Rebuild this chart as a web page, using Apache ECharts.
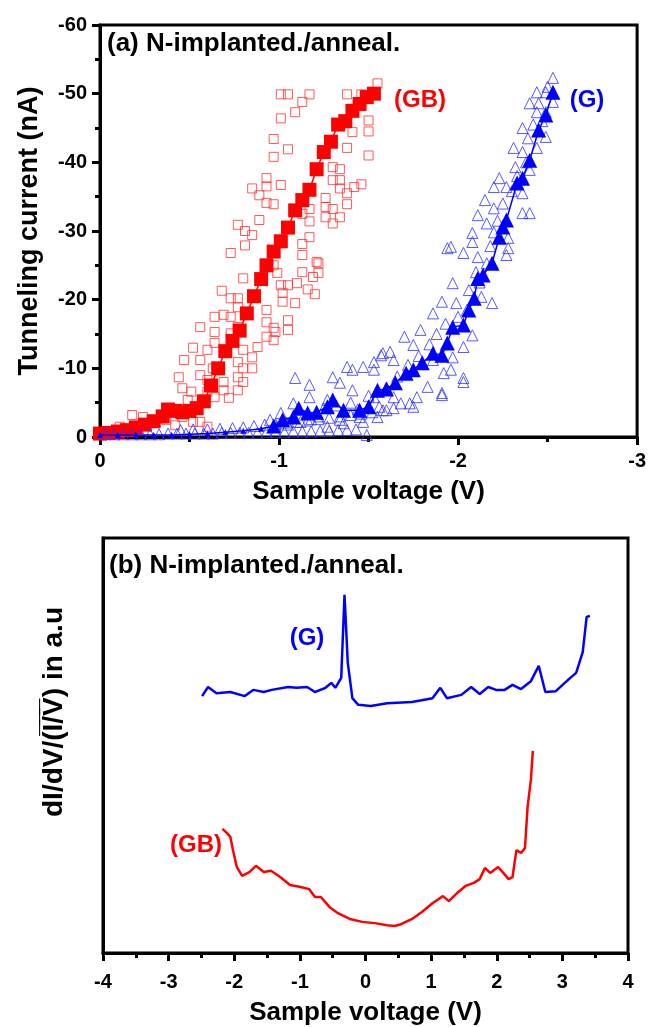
<!DOCTYPE html>
<html><head><meta charset="utf-8">
<script src="https://cdn.jsdelivr.net/npm/echarts@6/dist/echarts.min.js"></script>
<style>html,body{margin:0;padding:0;background:#fff}#c{width:649px;height:1027px}</style>
</head><body><div id="c"></div>
<script>
// ---------- Panel (a): I-V data ----------
const xTicksA = [0, -1, -2, -3];
const yTicksA = [-60, -50, -40, -30, -20, -10, 0];
// GB (grain boundary) individual curves (open squares)
const gbScatterV = [-1.01,-1.05,-1.17,-1.13,-1.09,-1.01,-1.38,-1.46,-1.55,-1.50,-1.50,-1.41,-0.97,-1.05,-0.97,-1.38,-1.50,-1.30,-1.34,-0.93,-0.93,-0.85,-0.89,-1.01,-0.93,-0.97,-1.30,-1.34,-1.34,-1.38,-1.42,-1.46,-1.26,-1.26,-1.30,-1.38,-1.26,-1.34,-1.30,-1.17,-1.17,-1.13,-1.17,-1.13,-0.89,-0.77,-0.81,-0.85,-0.81,
  -0.73,-1.13,-1.21,-0.97,-0.80,-1.13,-1.19,-1.01,-1.05,-1.10,-1.02,-1.02,-1.09,-0.68,-0.73,-0.77,-0.77,-0.93,-0.64,-0.69,-0.73,-0.56,-0.64,-0.73,-0.77,-0.93,-0.97,-1.05,-1.05,-0.93,-0.97,-0.52,-0.60,-0.64,-0.80,-0.85,-0.88,-0.56,-0.63,-0.77,-0.80,-0.85,-0.44,-0.56,-0.60,-0.69,-0.77,-0.80,-0.46,-0.51,-0.60,-0.69,-0.77,-0.64,-0.72,-0.18,-0.24,-0.49,-0.46,-0.37,-0.42,-0.52,-0.60,-0.11,
  -0.99,-1.22,-1.22,-0.98,-0.47,-0.56,-1.16,-1.20];
const gbScatterI = [-49.9,-49.9,-49.9,-48.8,-47.3,-46.4,-49.9,-49.9,-51.5,-46.1,-44.5,-44.4,-43.4,-41.9,-40.8,-42.1,-41.0,-39.3,-39.0,-37.7,-36.5,-36.2,-35.2,-36.7,-34.1,-33.9,-37.4,-37.4,-36.2,-35.5,-36.4,-36.8,-34.8,-33.5,-33.2,-33.9,-32.0,-32.0,-31.1,-33.2,-31.4,-32.5,-29.1,-28.1,-31.6,-30.9,-30.0,-29.4,-27.9,
  -26.8,-26.5,-25.5,-25.0,-23.1,-24.0,-23.3,-22.1,-22.1,-22.4,-21.0,-19.7,-19.5,-21.3,-20.2,-20.2,-18.9,-18.5,-17.5,-17.8,-17.5,-16.0,-15.3,-15.1,-16.0,-16.7,-15.9,-17.0,-15.6,-14.6,-14.1,-13.0,-12.7,-13.7,-12.7,-11.6,-13.1,-11.2,-10.0,-10.9,-10.0,-10.0,-8.7,-9.0,-8.3,-8.0,-8.7,-8.0,-7.1,-6.6,-6.6,-6.8,-6.8,-5.8,-5.7,-3.2,-2.9,-5.4,-2.9,-2.5,-1.7,-2.2,-1.5,-1.5,
  -23.9,-25.3,-23.9,-15.3,-11.2,-2.2,-21.5,-20.8];
// GB averaged curve (filled squares)
const gbMeanV = [0,-0.05,-0.10,-0.15,-0.20,-0.25,-0.30,-0.35,-0.38,-0.42,-0.46,-0.50,-0.54,-0.58,-0.62,-0.66,-0.70,-0.74,-0.78,-0.82,-0.86,-0.90,-0.93,-0.97,-1.01,-1.05,-1.09,-1.13,-1.17,-1.21,-1.25,-1.29,-1.33,-1.37,-1.41,-1.45,-1.49,-1.53];
const gbMeanI = [-0.5,-0.6,-0.8,-1.0,-1.4,-1.8,-2.3,-3.0,-4.0,-3.8,-3.6,-3.8,-4.2,-5.2,-7.5,-10.0,-12.5,-14.0,-15.5,-18.0,-20.5,-23.0,-25.0,-27.0,-28.5,-30.5,-33.0,-34.5,-36.0,-39.0,-41.5,-43.0,-45.5,-46.0,-47.5,-48.5,-49.5,-50.0];
// G (grain) individual curves (open triangles)
const gScatterV = [-1.09,-1.17,-1.30,-1.34,-1.38,-1.41,-1.47,-1.53,-1.58,-1.64,-1.70,-1.75,-1.79,-1.86,-1.91,-1.97,-1.99,-2.03,-2.03,-2.08,-1.91,-1.83,-1.77,-1.75,-1.92,-1.97,-1.86,-1.64,-1.53,-1.41,-1.27,-1.17,-1.08,-1.01,-0.95,-1.34,-1.45,-1.56,-1.68,-1.49,
  -1.96,-2.03,-2.08,-2.08,-2.11,-2.16,-2.06,-2.19,-2.13,-1.96,-2.03,-1.91,-1.62,-1.57,-1.53,-1.73,-1.60,-1.55,-1.47,-1.36,-1.27,
  -2.53,-2.44,-2.49,-2.40,-2.45,-2.53,-2.44,-2.49,-2.36,-2.39,-2.49,-2.31,-2.36,-2.44,-2.32,-2.40,-2.23,-2.20,-2.27,-2.36,-2.15,-2.20,-2.11,-2.36,-2.40,-2.16,-2.20,-2.28,-2.28,-1.94,-2.27,
  -1.22,-1.25,-1.32,-1.40,-1.44,-1.50,-1.60,-1.66,-1.72,-1.78,-1.84,-1.88,-1.93,-2.00,-2.05,-2.10,-2.12,-2.18,-2.22,-2.25,-2.30,-2.33,-2.38,-2.42,-2.47,-2.50,-1.12,-1.18,-1.05,-0.98,
  -0.03,-0.08,-0.13,-0.18,-0.23,-0.28,-0.33,-0.38,-0.43,-0.48,-0.53,-0.58,-0.63,-0.68,-0.73,-0.78,-0.83,-0.88,-0.93,-0.98,-1.03,-1.08,-1.13,-1.18,-1.23,-1.28,-1.33,-1.38,-1.43,
  -0.45,-0.52,-0.60,-0.67,-0.74,-0.80,-0.86,-0.92,-0.98,-1.04,-1.10,-1.16,-1.22,-1.28,-1.34,-1.40,-1.46,-1.52,-1.58,-1.64];
const gScatterI = [-8.6,-7.6,-8.7,-7.9,-10.2,-9.8,-10.2,-9.8,-12.2,-11.2,-14.6,-13.4,-15.6,-18.0,-19.7,-22.4,-19.5,-13.1,-8.6,-14.8,-6.4,-7.3,-5.8,-4.4,-9.3,-11.6,-11.2,-5.8,-5.8,-6.8,-5.4,-5.8,-4.9,-3.5,-2.5,-2.5,-2.9,-4.4,-4.9,-0.3,
  -27.7,-26.8,-29.7,-28.4,-26.2,-25.3,-21.4,-19.5,-20.4,-9.8,-8.0,-6.1,-12.4,-11.9,-10.9,-4.9,-3.9,-2.9,-2.2,-2.0,-1.5,
  -52.3,-50.2,-50.2,-48.6,-48.6,-48.8,-47.3,-47.3,-45.0,-43.5,-43.7,-42.1,-41.5,-42.1,-39.3,-38.9,-37.7,-36.4,-36.4,-35.5,-34.5,-33.3,-32.3,-32.6,-32.6,-31.1,-29.8,-29.0,-27.5,-27.5,-26.5,
  -3.0,-4.2,-4.6,-5.0,-4.0,-6.0,-7.2,-8.8,-10.5,-11.8,-13.5,-15.0,-16.5,-17.5,-18.5,-24.0,-22.5,-27.8,-31.5,-34.0,-35.8,-38.0,-40.0,-45.5,-46.0,-51.0,-2.2,-2.6,-1.8,-1.6,
  -0.4,-0.4,-0.4,-0.4,-0.4,-0.4,-0.4,-0.5,-0.5,-0.5,-0.5,-0.5,-0.5,-0.6,-0.6,-0.6,-0.6,-0.6,-0.7,-0.7,-0.7,-0.8,-0.8,-0.8,-0.9,-0.9,-1.0,-1.0,-1.1,
  -1.0,-1.1,-1.1,-1.2,-1.3,-1.4,-1.6,-1.8,-1.9,-2.1,-2.2,-2.4,-2.6,-2.8,-3.0,-3.2,-3.4,-3.6,-3.9,-4.2];
// G averaged curve (filled triangles)
const gMeanV = [0,-0.1,-0.2,-0.3,-0.4,-0.5,-0.6,-0.7,-0.8,-0.9,-0.97,-1.02,-1.08,-1.11,-1.16,-1.21,-1.27,-1.30,-1.36,-1.45,-1.50,-1.55,-1.60,-1.65,-1.71,-1.75,-1.80,-1.86,-1.91,-1.94,-1.97,-2.03,-2.06,-2.09,-2.11,-2.14,-2.19,-2.23,-2.25,-2.27,-2.33,-2.36,-2.40,-2.45,-2.49,-2.53];
const gMeanI = [-0.3,-0.3,-0.3,-0.3,-0.3,-0.4,-0.5,-0.7,-0.9,-1.2,-1.6,-2.5,-2.9,-4.2,-3.5,-3.6,-4.4,-5.4,-3.9,-3.9,-4.4,-6.8,-7.0,-7.9,-9.3,-9.8,-10.8,-12.2,-11.9,-13.7,-16.0,-16.3,-18.5,-20.2,-23.1,-23.6,-25.3,-29.1,-30.6,-31.6,-37.0,-37.7,-40.3,-44.7,-46.9,-50.2];

// ---------- Panel (b): normalized conductance ----------
const xTicksB = [-4, -3, -2, -1, 0, 1, 2, 3, 4];
const gDidvV = [-2.49,-2.40,-2.27,-2.06,-1.84,-1.71,-1.55,-1.43,-1.18,-1.05,-0.89,-0.77,-0.61,-0.52,-0.46,-0.37,-0.32,-0.27,-0.20,-0.11,0.08,0.33,0.71,1.02,1.14,1.24,1.46,1.61,1.74,1.87,1.99,2.12,2.24,2.37,2.52,2.64,2.74,2.90,3.12,3.21,3.31,3.37,3.42];
const gDidvY = [61.9,64.1,62.6,62.9,61.9,63.4,62.9,63.4,64.1,63.9,64.1,62.9,63.9,65.1,63.9,66.3,86.3,69.9,61.4,59.8,59.5,60.2,60.5,61.4,63.9,61.4,62.2,64.1,62.4,64.1,63.4,63.4,64.6,63.6,65.5,69.2,62.9,63.1,66.3,67.5,72.5,81.0,81.2];
const gbDidvV = [-2.18,-2.11,-2.06,-2.02,-1.96,-1.88,-1.77,-1.67,-1.55,-1.44,-1.30,-1.15,-0.99,-0.86,-0.77,-0.68,-0.55,-0.42,-0.24,-0.05,0.14,0.33,0.45,0.55,0.71,0.86,1.02,1.18,1.27,1.40,1.52,1.65,1.74,1.82,1.90,2.02,2.10,2.18,2.24,2.30,2.37,2.43,2.47,2.52,2.55];
const gbDidvY = [29.9,28.9,28.0,24.8,20.7,18.6,19.5,21.0,19.5,19.8,18.3,16.4,15.9,15.4,13.5,13.5,11.1,9.6,8.2,7.5,7.2,6.7,6.5,7.0,8.2,9.9,12.0,13.7,12.5,14.5,16.1,16.9,17.8,20.5,19.3,20.7,19.3,17.8,18.3,24.8,24.1,25.3,35.2,41.7,48.7];

const pair = (xs, ys) => xs.map((x, i) => [x, ys[i]]);
const RED = '#ff0000', BLUE = '#0000ff';
const FF = '"Liberation Sans", Arial, sans-serif';

const chart = echarts.init(document.getElementById('c'), null, {renderer: 'canvas'});
const axisLine = {show: true, onZero: false, lineStyle: {color: '#000', width: 3}};
chart.setOption({
  animation: false,
  backgroundColor: '#fff',
  grid: [
    {left: 100, top: 25, width: 538, height: 412, show: true, borderColor: '#000', borderWidth: 3, backgroundColor: 'transparent'},
    {left: 103, top: 538, width: 525, height: 415, show: true, borderColor: '#000', borderWidth: 3, backgroundColor: 'transparent'}
  ],
  xAxis: [
    {gridIndex: 0, type: 'value', min: xTicksA[3], max: xTicksA[0], interval: 1, inverse: true,
     axisLine, axisTick: {show: true, inside: false, length: 8, lineStyle: {width: 3, color: '#000'}},
     minorTick: {show: true, splitNumber: 2, length: 5, lineStyle: {width: 3, color: '#000'}},
     splitLine: {show: false}, minorSplitLine: {show: false},
     axisLabel: {color: '#000', fontSize: 20, fontWeight: 'bold', fontFamily: FF, margin: 14},
     name: 'Sample voltage (V)', nameLocation: 'middle', nameGap: 42,
     nameTextStyle: {color: '#000', fontSize: 26, fontWeight: 'bold', fontFamily: FF}},
    {gridIndex: 1, type: 'value', min: xTicksB[0], max: xTicksB[xTicksB.length - 1], interval: 1,
     axisLine, axisTick: {show: true, inside: false, length: 8, lineStyle: {width: 3, color: '#000'}},
     minorTick: {show: true, splitNumber: 2, length: 5, lineStyle: {width: 3, color: '#000'}},
     splitLine: {show: false}, minorSplitLine: {show: false},
     axisLabel: {color: '#000', fontSize: 20, fontWeight: 'bold', fontFamily: FF, margin: 19},
     name: 'Sample voltage (V)', nameLocation: 'middle', nameGap: 47,
     nameTextStyle: {color: '#000', fontSize: 26, fontWeight: 'bold', fontFamily: FF}}
  ],
  yAxis: [
    {gridIndex: 0, type: 'value', min: yTicksA[0], max: yTicksA[yTicksA.length - 1], interval: 10, inverse: true,
     axisLine, axisTick: {show: true, inside: false, length: 8, lineStyle: {width: 3, color: '#000'}},
     minorTick: {show: true, splitNumber: 2, length: 5, lineStyle: {width: 3, color: '#000'}},
     splitLine: {show: false}, minorSplitLine: {show: false},
     axisLabel: {color: '#000', fontSize: 20, fontWeight: 'bold', fontFamily: FF, margin: 13},
     name: 'Tunneling current (nA)', nameLocation: 'middle', nameGap: 57, nameRotate: 90,
     nameTextStyle: {color: '#000', fontSize: 27, fontWeight: 'bold', fontFamily: FF}},
    {gridIndex: 1, type: 'value', min: 0, max: 100,
     axisLine, axisTick: {show: false}, axisLabel: {show: false}, splitLine: {show: false}}
  ],
  graphic: [
    {type: 'text', left: 107, top: 31, style: {text: '(a) N-implanted./anneal.', fill: '#000', font: 'bold 26px ' + FF}},
    {type: 'text', x: 420, y: 100, style: {text: '(GB)', fill: RED, font: 'bold 24px ' + FF, align: 'center', verticalAlign: 'middle'}},
    {type: 'text', x: 587, y: 100, style: {text: '(G)', fill: BLUE, font: 'bold 24px ' + FF, align: 'center', verticalAlign: 'middle'}},
    {type: 'text', left: 109, top: 553, style: {text: '(b) N-implanted./anneal.', fill: '#000', font: 'bold 26px ' + FF}},
    {type: 'text', x: 307, y: 638, style: {text: '(G)', fill: BLUE, font: 'bold 24px ' + FF, align: 'center', verticalAlign: 'middle'}},
    {type: 'text', x: 196, y: 845, style: {text: '(GB)', fill: RED, font: 'bold 24px ' + FF, align: 'center', verticalAlign: 'middle'}},
    {type: 'text', x: 54, y: 712, rotation: Math.PI / 2,
     style: {text: 'dI/dV/(I\u0305/\u0305V\u0305) in a.u', fill: '#000', font: 'bold 28px ' + FF, align: 'center', verticalAlign: 'middle'}}
  ],
  series: [
    {type: 'scatter', xAxisIndex: 0, yAxisIndex: 0, data: pair(gbScatterV, gbScatterI), symbol: 'rect', symbolSize: 9,
     itemStyle: {color: 'rgba(255,255,255,0)', borderColor: '#ff3030', borderWidth: 1}, z: 2},
    {type: 'line', xAxisIndex: 0, yAxisIndex: 0, data: pair(gbMeanV, gbMeanI), symbol: 'rect', symbolSize: 14,
     lineStyle: {color: RED, width: 1.5}, itemStyle: {color: RED}, z: 3},
    {type: 'scatter', xAxisIndex: 0, yAxisIndex: 0, data: pair(gScatterV, gScatterI), symbol: 'triangle', symbolSize: 11,
     itemStyle: {color: 'rgba(255,255,255,0)', borderColor: '#3030ff', borderWidth: 1}, z: 4},
    {type: 'line', xAxisIndex: 0, yAxisIndex: 0, data: pair(gMeanV, gMeanI), symbol: 'triangle',
     symbolSize: (v) => (Math.abs(v[1]) < 1.5 ? 6 : 15),
     lineStyle: {color: BLUE, width: 1.5}, itemStyle: {color: BLUE}, z: 5},
    {type: 'line', xAxisIndex: 1, yAxisIndex: 1, data: pair(gDidvV, gDidvY), showSymbol: false, symbol: 'none',
     lineStyle: {color: BLUE, width: 2.5}},
    {type: 'line', xAxisIndex: 1, yAxisIndex: 1, data: pair(gbDidvV, gbDidvY), showSymbol: false, symbol: 'none',
     lineStyle: {color: RED, width: 2.5}}
  ]
});
</script></body></html>
